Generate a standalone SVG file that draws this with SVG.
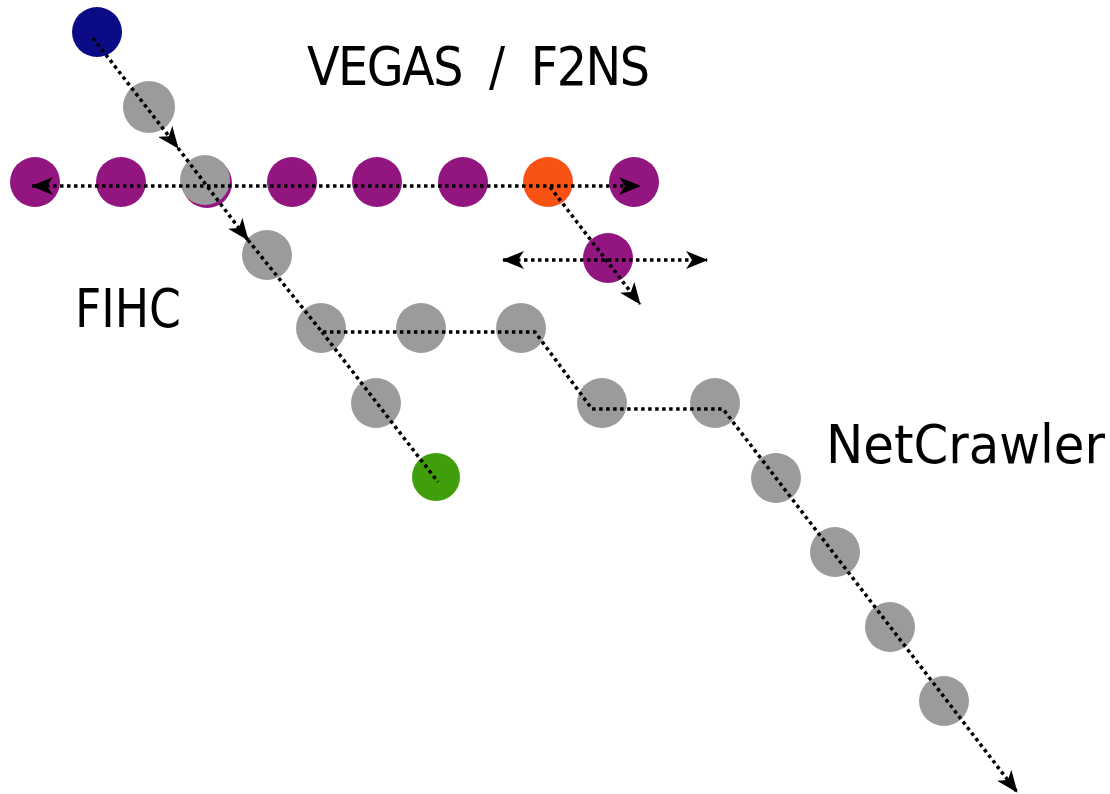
<svg xmlns="http://www.w3.org/2000/svg" width="1110" height="794" viewBox="0 0 1110 794">
<defs>
<style>
.g{fill:#9b9b9b}
.p{fill:#93157f}
.o{fill:#f95215}
.b{fill:#0b0b85}
.gr{fill:#3f9e0a}
.c{fill:none;stroke:#000;stroke-width:3.5;stroke-dasharray:3.5 3.5}
.t{font-family:"DejaVu Sans Condensed","DejaVu Sans",sans-serif;font-size:53px;fill:#000}
</style>
<marker id="ah" viewBox="0 0 22 18" refX="21" refY="9" markerWidth="22" markerHeight="18" markerUnits="userSpaceOnUse" orient="auto">
<path d="M0,0 L22,9 L0,18 L6,9 z" fill="#000"/>
</marker>
<marker id="as" viewBox="0 0 22 18" refX="1" refY="9" markerWidth="22" markerHeight="18" markerUnits="userSpaceOnUse" orient="auto">
<path d="M22,0 L0,9 L22,18 L16,9 z" fill="#000"/>
</marker>
</defs>
<rect width="1110" height="794" fill="#fff"/>
<g id="n-blue"><circle class="b" cx="97" cy="32" r="25"/></g>
<g id="n-g1"><circle class="g" cx="149" cy="107" r="26"/></g>
<g id="n-p1"><circle class="p" cx="35" cy="182" r="25"/></g>
<g id="n-p2"><circle class="p" cx="121" cy="182" r="25"/></g>
<g id="n-p3"><circle class="p" cx="207" cy="183" r="25"/></g>
<g id="n-g2"><circle class="g" cx="205" cy="180" r="25"/></g>
<g id="n-p4"><circle class="p" cx="292" cy="182" r="25"/></g>
<g id="n-p5"><circle class="p" cx="377" cy="182" r="25"/></g>
<g id="n-p6"><circle class="p" cx="463" cy="182" r="25"/></g>
<g id="n-o"><circle class="o" cx="548" cy="182" r="25"/></g>
<g id="n-p7"><circle class="p" cx="634" cy="182" r="25"/></g>
<g id="n-p8"><circle class="p" cx="608" cy="258" r="25"/></g>
<g id="n-g3"><circle class="g" cx="267" cy="255" r="25"/></g>
<g id="n-g4"><circle class="g" cx="321" cy="328" r="25"/></g>
<g id="n-g5"><circle class="g" cx="421" cy="328" r="25"/></g>
<g id="n-g6"><circle class="g" cx="521" cy="328" r="25"/></g>
<g id="n-g7"><circle class="g" cx="376" cy="403" r="25"/></g>
<g id="n-green"><circle class="gr" cx="436" cy="477" r="24"/></g>
<g id="n-g8"><circle class="g" cx="602" cy="403" r="25"/></g>
<g id="n-g9"><circle class="g" cx="715" cy="403" r="25"/></g>
<g id="n-g10"><circle class="g" cx="776" cy="478" r="25"/></g>
<g id="n-g11"><circle class="g" cx="835" cy="552" r="25"/></g>
<g id="n-g12"><circle class="g" cx="890" cy="627" r="25"/></g>
<g id="n-g13"><circle class="g" cx="944" cy="701" r="25"/></g>
<g id="connectors">
<path class="c" d="M93,38 L178,148" marker-end="url(#ah)"/>
<path class="c" d="M178,148 L248,240" marker-end="url(#ah)"/>
<path class="c" d="M248,240 L322,332 L535,332 L592,409 L723,409 L1017,792" marker-end="url(#ah)"/>
<path class="c" d="M322,332 L438,482"/>
<path class="c" d="M32,186 L640,186" marker-start="url(#as)" marker-end="url(#ah)"/>
<path class="c" d="M550,187 L640,304" marker-end="url(#ah)"/>
<path class="c" d="M503,260 L707,260" marker-start="url(#as)" marker-end="url(#ah)"/>
</g>
<g id="labels">
<text class="t" x="307" y="85" textLength="343" lengthAdjust="spacing" xml:space="preserve">VEGAS  /  F2NS</text>
<text class="t" x="75" y="327" textLength="106" lengthAdjust="spacingAndGlyphs">FIHC</text>
<text class="t" x="826" y="463" textLength="279" lengthAdjust="spacingAndGlyphs">NetCrawler</text>
</g>
</svg>
